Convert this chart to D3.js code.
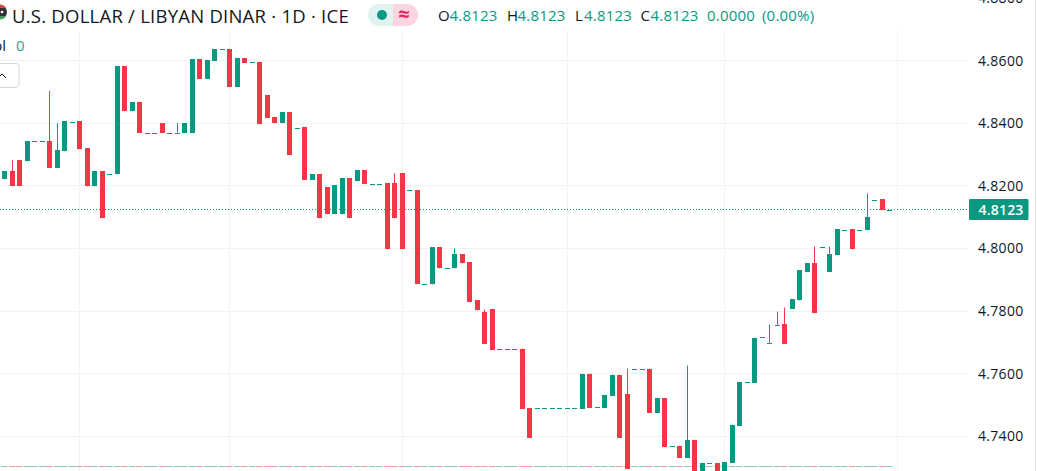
<!DOCTYPE html>
<html>
<head>
<meta charset="utf-8">
<script src="https://cdnjs.cloudflare.com/ajax/libs/d3/7.8.5/d3.min.js"></script>
<style>
  html, body { margin: 0; padding: 0; background: #fff; overflow: hidden; }
  text { font-family: "Open Sans", "Noto Sans", sans-serif; }
</style>
</head>
<body>
<script>
// daily candles
const opens = [4.8221,4.8246,4.8282,4.8278,4.8342,4.8342,4.8342,4.8256,4.8310,4.8405,4.8406,4.8320,4.8198,4.8246,4.8239,4.8237,4.8582,4.8438,4.8467,4.8370,4.8370,4.8400,4.8370,4.8370,4.8368,4.8368,4.8605,4.8541,4.8598,4.8636,4.8637,4.8515,4.8608,4.8594,4.8595,4.8490,4.8419,4.8400,4.8435,4.8386,4.8387,4.8218,4.8237,4.8195,4.8109,4.8109,4.8224,4.8214,4.8250,4.8207,4.8207,4.8208,4.8208,4.8240,4.8185,4.8186,4.7887,4.7885,4.8003,4.7938,4.7936,4.7981,4.7955,4.7834,4.7798,4.7805,4.7679,4.7679,4.7679,4.7680,4.7491,4.7491,4.7491,4.7491,4.7491,4.7491,4.7491,4.7488,4.7600,4.7493,4.7491,4.7530,4.7597,4.7536,4.7615,4.7615,4.7616,4.7475,4.7523,4.7369,4.7370,4.7331,4.7389,4.7285,4.7314,4.7315,4.7285,4.7315,4.7434,4.7573,4.7571,4.7717,4.7698,4.7756,4.7757,4.7808,4.7834,4.7926,4.7952,4.8005,4.7926,4.7978,4.8060,4.8061,4.8060,4.8058,4.8156,4.8157,4.8123];
const closes = [4.8246,4.8199,4.8199,4.8342,4.8342,4.8342,4.8256,4.8314,4.8406,4.8405,4.8317,4.8198,4.8246,4.8096,4.8239,4.8582,4.8438,4.8467,4.8368,4.8370,4.8370,4.8368,4.8370,4.8370,4.8400,4.8605,4.8541,4.8602,4.8637,4.8636,4.8515,4.8608,4.8592,4.8594,4.8397,4.8416,4.8400,4.8435,4.8298,4.8386,4.8218,4.8237,4.8096,4.8109,4.8202,4.8224,4.8096,4.8250,4.8205,4.8207,4.8207,4.7997,4.8096,4.7997,4.8185,4.7885,4.7887,4.8003,4.7936,4.7938,4.7981,4.7952,4.7830,4.7802,4.7696,4.7677,4.7679,4.7679,4.7679,4.7488,4.7395,4.7491,4.7491,4.7491,4.7491,4.7491,4.7491,4.7600,4.7491,4.7493,4.7533,4.7597,4.7395,4.7296,4.7615,4.7615,4.7475,4.7523,4.7366,4.7369,4.7331,4.7389,4.7282,4.7315,4.7314,4.7285,4.7318,4.7437,4.7574,4.7573,4.7715,4.7717,4.7698,4.7756,4.7696,4.7837,4.7930,4.7952,4.7795,4.8005,4.7981,4.8061,4.8060,4.7997,4.8060,4.8099,4.8156,4.8122,4.8123];
const highs = [4.8246,4.8282,4.8282,4.8342,4.8342,4.8342,4.8503,4.8400,4.8406,4.8405,4.8406,4.8320,4.8246,4.8246,4.8239,4.8582,4.8582,4.8467,4.8467,4.8370,4.8370,4.8400,4.8370,4.8400,4.8400,4.8605,4.8605,4.8602,4.8637,4.8636,4.8637,4.8608,4.8608,4.8594,4.8595,4.8490,4.8419,4.8435,4.8435,4.8386,4.8387,4.8237,4.8237,4.8195,4.8202,4.8224,4.8224,4.8250,4.8250,4.8207,4.8207,4.8208,4.8240,4.8240,4.8185,4.8186,4.7887,4.8003,4.8003,4.7938,4.8000,4.7981,4.7955,4.7834,4.7805,4.7805,4.7679,4.7679,4.7679,4.7680,4.7491,4.7491,4.7491,4.7491,4.7491,4.7491,4.7491,4.7600,4.7600,4.7493,4.7533,4.7597,4.7597,4.7616,4.7615,4.7615,4.7616,4.7523,4.7523,4.7369,4.7370,4.7626,4.7389,4.7315,4.7314,4.7315,4.7318,4.7437,4.7574,4.7573,4.7715,4.7717,4.7757,4.7798,4.7811,4.7837,4.7930,4.7952,4.8006,4.8005,4.8006,4.8061,4.8060,4.8061,4.8060,4.8176,4.8156,4.8157,4.8123];
const lows = [4.8221,4.8199,4.8199,4.8278,4.8342,4.8342,4.8256,4.8256,4.8310,4.8405,4.8317,4.8198,4.8198,4.8096,4.8239,4.8237,4.8438,4.8438,4.8368,4.8370,4.8370,4.8368,4.8370,4.8370,4.8368,4.8368,4.8541,4.8541,4.8598,4.8636,4.8515,4.8515,4.8592,4.8594,4.8397,4.8416,4.8400,4.8400,4.8298,4.8386,4.8218,4.8218,4.8096,4.8109,4.8109,4.8109,4.8096,4.8214,4.8205,4.8207,4.8207,4.7997,4.8096,4.7997,4.8185,4.7885,4.7887,4.7885,4.7936,4.7938,4.7936,4.7952,4.7830,4.7802,4.7696,4.7677,4.7679,4.7679,4.7679,4.7488,4.7395,4.7491,4.7491,4.7491,4.7491,4.7491,4.7491,4.7488,4.7491,4.7493,4.7491,4.7530,4.7395,4.7296,4.7615,4.7615,4.7475,4.7475,4.7366,4.7369,4.7331,4.7331,4.7282,4.7285,4.7314,4.7285,4.7285,4.7315,4.7434,4.7573,4.7571,4.7717,4.7698,4.7756,4.7696,4.7808,4.7834,4.7926,4.7795,4.8005,4.7926,4.7978,4.8060,4.7997,4.8060,4.8058,4.8156,4.8122,4.8123];
const priceTicks = [4.74, 4.76, 4.78, 4.80, 4.82, 4.84, 4.86, 4.88];
const gridBars = [10, 30, 53, 75, 96, 119]; // month starts
const lastPrice = 4.8123;

const w = 1037, h = 471;
const plotRight = 968;
const up = '#089981', down = '#f23645';
const gridColor = '#f1f2f4';

const svg = d3.select('body').append('svg')
    .attr('width', w)
    .attr('height', h)
    .style('display', 'block');

// bar index -> pixel, price -> pixel
const x = d3.scaleLinear().domain([0, 118]).range([4.4, 889.4]);
const y = d3.scaleLinear().domain([4.74, 4.86]).range([436.3, 60.5]);

const bars = opens.map((o, i) => ({ i, o, c: closes[i], hi: highs[i], lo: lows[i] }));
const color = d => d.c >= d.o ? up : down;

// grid
svg.append('g').selectAll('line')
    .data(priceTicks).enter().append('line')
    .attr('x1', 0).attr('x2', plotRight)
    .attr('y1', d => Math.floor(y(d)) + 0.5).attr('y2', d => Math.floor(y(d)) + 0.5)
    .attr('stroke', gridColor);
svg.append('g').selectAll('line')
    .data(gridBars).enter().append('line')
    .attr('x1', d => Math.round(x(d)) + 0.5).attr('x2', d => Math.round(x(d)) + 0.5)
    .attr('y1', 30).attr('y2', h)
    .attr('stroke', gridColor);

// price axis border
svg.append('line')
    .attr('x1', 1035.5).attr('x2', 1035.5)
    .attr('y1', 0).attr('y2', h)
    .attr('stroke', '#e0e3eb');

// zero volume row along the bottom
svg.append('g').selectAll('rect')
    .data(bars).enter().append('rect')
    .attr('x', d => Math.round(x(d.i)) - 3)
    .attr('y', 466)
    .attr('width', 6.5)
    .attr('height', 1)
    .attr('fill', color)
    .attr('opacity', 0.5);

// last price line
svg.append('line')
    .attr('x1', 0).attr('x2', plotRight)
    .attr('y1', Math.floor(y(lastPrice)) + 0.5).attr('y2', Math.floor(y(lastPrice)) + 0.5)
    .attr('stroke', up)
    .attr('stroke-dasharray', '1 2');

// candles
const candles = svg.append('g').selectAll('g').data(bars).enter().append('g');
candles.append('rect')
    .attr('x', d => Math.round(x(d.i)))
    .attr('width', 1)
    .attr('y', d => y(d.hi))
    .attr('height', d => Math.max(0, y(d.lo) - y(d.hi)))
    .attr('fill', color);
candles.append('rect')
    .attr('x', d => Math.round(x(d.i)) - 2)
    .attr('width', 5)
    .attr('y', d => Math.round(y(Math.max(d.o, d.c))))
    .attr('height', d => Math.max(1, Math.round(y(Math.min(d.o, d.c))) - Math.round(y(Math.max(d.o, d.c)))))
    .attr('fill', color);

// price axis labels
svg.append('g').selectAll('text')
    .data(priceTicks).enter().append('text')
    .attr('x', 978)
    .attr('y', d => y(d) + 5)
    .attr('font-size', 14)
    .attr('letter-spacing', 0.3)
    .attr('fill', '#131722')
    .text(d => d3.format('.4f')(d));

svg.append('rect')
    .attr('x', 969).attr('y', 199)
    .attr('width', 59.5).attr('height', 21)
    .attr('rx', 1)
    .attr('fill', up);
svg.append('text')
    .attr('x', 978.5).attr('y', y(lastPrice) + 5)
    .attr('font-size', 14)
    .attr('font-weight', 600)
    .attr('letter-spacing', 0.2)
    .attr('fill', '#fff')
    .text(d3.format('.4f')(lastPrice));

// header
svg.append('circle').attr('cx', 0).attr('cy', 12).attr('r', 7).attr('fill', '#333');
svg.append('path').attr('d', 'M-6 8 A7 7 0 0 1 6 8Z').attr('fill', '#d8423c');
svg.append('path').attr('d', 'M-6 16 L6 16 A7 7 0 0 1 -6 16Z').attr('fill', '#4a9c5d');
svg.append('circle').attr('cx', 2).attr('cy', 12).attr('r', 1.3).attr('fill', '#fff');

svg.append('text')
    .attr('x', 12).attr('y', 22.7)
    .attr('font-size', 18.5)
    .attr('letter-spacing', 0.24)
    .attr('fill', '#131722')
    .text('U.S. DOLLAR / LIBYAN DINAR · 1D · ICE');

svg.append('path').attr('d', 'M379 4 H393 V26 H379 A11 11 0 0 1 379 4Z').attr('fill', '#dff3f0');
svg.append('path').attr('d', 'M393 4 H407 A11 11 0 0 1 407 26 H393Z').attr('fill', '#fbd5e0');
svg.append('circle').attr('cx', 382).attr('cy', 15).attr('r', 5).attr('fill', up);
svg.append('text').attr('x', 404).attr('y', 21).attr('text-anchor', 'middle')
    .attr('font-size', 20).attr('font-weight', 700).attr('fill', '#e91e63').text('≈');

// O H L C readout
const legendLabels = ['O', 'H', 'L', 'C'];
const legendX = [438, 507, 575, 640.5];
const legendValueX = [449.5, 517.5, 584, 650.5];
legendLabels.forEach((l, i) => {
    svg.append('text').attr('x', legendX[i]).attr('y', 21).attr('font-size', 15).attr('fill', '#131722').text(l);
    svg.append('text').attr('x', legendValueX[i]).attr('y', 21).attr('font-size', 15).attr('letter-spacing', 0.2)
        .attr('fill', up).text('4.8123');
});
svg.append('text').attr('x', 707).attr('y', 21).attr('font-size', 15).attr('letter-spacing', 0.2).attr('fill', up).text('0.0000');
svg.append('text').attr('x', 762).attr('y', 21).attr('font-size', 15).attr('letter-spacing', 0.2).attr('fill', up).text('(0.00%)');

svg.append('text').attr('x', 6).attr('y', 51).attr('text-anchor', 'end').attr('font-size', 15).attr('fill', '#131722').text('Vol');
svg.append('text').attr('x', 16).attr('y', 51).attr('font-size', 15).attr('fill', '#26a69a').text('0');

svg.append('rect').attr('x', -8).attr('y', 63.5).attr('width', 27).attr('height', 24).attr('rx', 3)
    .attr('fill', '#fff').attr('stroke', '#d6d8e0');
svg.append('path').attr('d', 'M-2 78 L2 74 L6 78').attr('fill', 'none').attr('stroke', '#131722');
</script>
</body>
</html>
